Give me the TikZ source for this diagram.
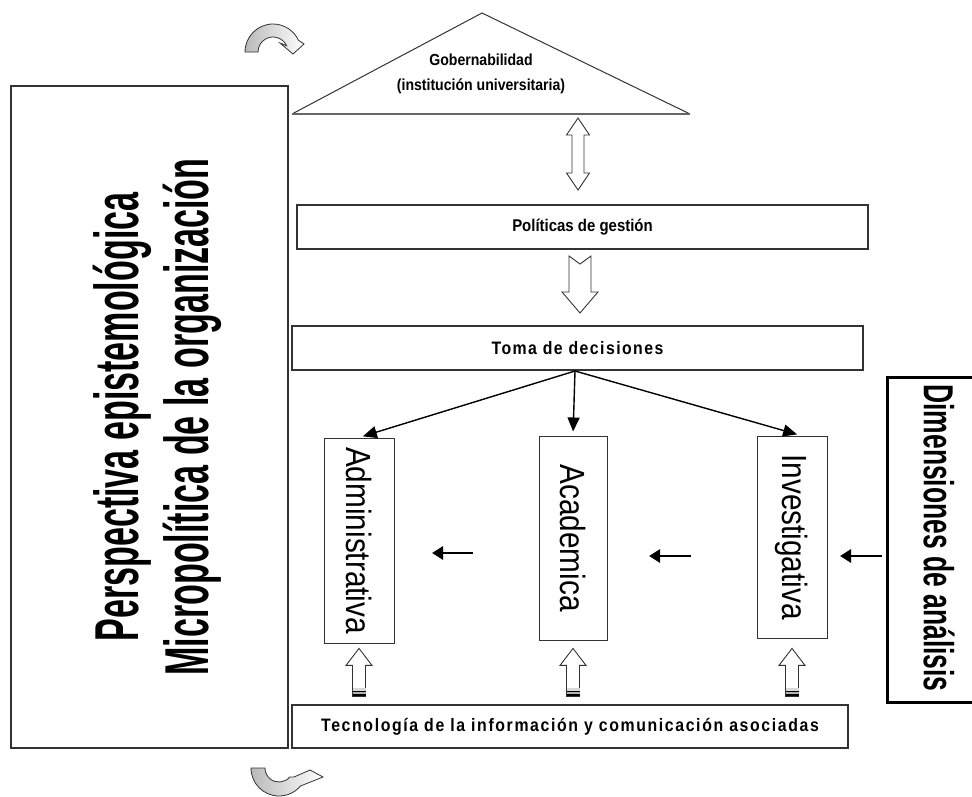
\documentclass[tikz,border=0pt]{standalone}
\usepackage{fontspec}
\usepackage{graphicx}
\setmainfont{Liberation Sans}
\newfontfamily\labelfont[FakeStretch=0.88]{Liberation Sans}
\newfontfamily\spacedfont[FakeStretch=0.88, LetterSpace=8]{Liberation Sans}
\newfontfamily\widefont[FakeStretch=0.88, LetterSpace=9]{Liberation Sans}
\newfontfamily\condfont[FakeStretch=0.55]{Liberation Sans}
\newfontfamily\dimfont[FakeStretch=0.63]{Liberation Sans}
\newfontfamily\thinfont[FakeStretch=0.85]{Liberation Sans}
\usetikzlibrary{arrows.meta}

\tikzset{
  box/.style={draw=black!80, line width=1.2pt, inner sep=0pt},
  vbox/.style={draw=black!80, line width=1pt, inner sep=0pt, font=\thinfont\fontsize{35}{40}\selectfont},
  lbl/.style={font=\labelfont\bfseries\fontsize{#1}{25}\selectfont},
  slbl/.style={font=\spacedfont\bfseries\fontsize{#1}{25}\selectfont},
  wlbl/.style={font=\widefont\bfseries\fontsize{#1}{25}\selectfont},
  fork/.style={-{Triangle[length=14pt,width=12pt]}, line width=1.4pt, shorten >=4pt},
  flow/.style={-{Triangle[length=11pt,width=13pt]}, line width=2.8pt},
  hollow/.style={draw=black!80, line width=0.9pt, fill=white, line join=miter},
  dblarrow/.pic={
    \draw[hollow] (0,0) -- (11.5,17) -- (6,17) -- (6,55) -- (11.5,55) -- (0,72)
      -- (-11.5,55) -- (-6,55) -- (-6,17) -- (-11.5,17) -- cycle;
  },
  notcharrow/.pic={
    \draw[hollow] (-11,0) -- (0,8) -- (11,0) -- (11,36) -- (18,36) -- (0,57)
      -- (-18,36) -- (-11,36) -- cycle;
  },
  uparrow/.pic={
    \draw[hollow] (-6.5,0) -- (-6.5,-31) -- (-13,-31) -- (0,-48) -- (13,-31)
      -- (6.5,-31) -- (6.5,0) -- cycle;
    \fill[black] (-6.5,0) rectangle (6.5,-2.5);
    \fill[gray!60] (-6.5,-2.5) rectangle (6.5,-4);
    \fill[black] (-6.5,-4) rectangle (6.5,-5.5);
    \fill[gray!30] (-6.5,-5.5) rectangle (6.5,-8);
  },
  turnover/.pic={
    \shade[draw=black!80, line width=0.8pt, left color=gray!55, right color=white]
      (180:28) arc[start angle=180, end angle=335, radius=28] -- (31,-8) -- (20,2)
      -- (7,-9) -- (335:15) arc[start angle=335, end angle=180, radius=15] -- cycle;
  },
  turnunder/.pic={
    \shade[draw=black!80, line width=0.8pt, left color=gray!55, right color=white]
      (180:28) arc[start angle=180, end angle=40, radius=28] -- (44,9) -- (31,2)
      -- (15,9) -- (40:14) arc[start angle=40, end angle=180, radius=14] -- cycle;
  }
}

\begin{document}
\begin{tikzpicture}[x=1pt,y=-1pt]
\useasboundingbox (0,0) rectangle (972,796);

% marco izquierdo
\node[box, minimum width=277, minimum height=662] (persp) at (149.5,417) {};
\node[rotate=90, align=center, inner sep=0pt,
      font=\condfont\bfseries\fontsize{62}{70}\selectfont] (perspText) at (157,417)
  {Perspectiva epistemológica\\Micropolítica de la organización};

% gobernabilidad
\coordinate (gobL) at (292,114);
\coordinate (gobT) at (482,13);
\coordinate (gobR) at (690,114);
\draw[line width=1pt, black!80] (gobL) -- (gobT) -- (gobR);
\draw[line width=2pt, black!60] (gobL) -- (gobR);
\node[lbl=16, align=center] (gob) at (481,74) {Gobernabilidad\\(institución universitaria)};

% cajas horizontales
\node[box, minimum width=571, minimum height=44, lbl=17] (pol) at (582.5,227) {Políticas de gestión};
\node[box, minimum width=571, minimum height=44, slbl=18] (toma) at (577.5,348) {Toma de decisiones};
\node[box, minimum width=556, minimum height=43, wlbl=18] (tec) at (570,726.5)
  {Tecnología de la información y comunicación asociadas};

% dimensiones
\node[vbox, minimum width=70, minimum height=205] (adm) at (359,540.5) {\rotatebox{-90}{Administrativa}};
\node[vbox, minimum width=68, minimum height=204] (acad) at (573,538) {\rotatebox{-90}{Academica}};
\node[vbox, minimum width=70, minimum height=202] (inv) at (792,537) {\rotatebox{-90}{Investigativa}};

\node[draw, line width=3pt, minimum width=90, minimum height=325] (dim) at (932,539.5) {};
\node[rotate=-90, inner sep=0pt, font=\dimfont\bfseries\fontsize{42}{46}\selectfont]
  (dimText) at (939,538) {Dimensiones de análisis};

% flechas de decision
\coordinate (fork) at (575,371);
\draw[fork] (fork) -- (adm.north);
\draw[fork] (fork) -- (acad.north);
\draw[fork] (fork) -- ([xshift=9pt]inv.north);

% flechas entre dimensiones
\coordinate (f1s) at (473,553);
\coordinate (f1e) at (432,553);
\coordinate (f2s) at (691,556);
\coordinate (f2e) at (649,556);
\coordinate (f3s) at (882,556);
\coordinate (f3e) at (840,556);
\draw[flow] (f1s) -- (f1e);
\draw[flow] (f2s) -- (f2e);
\draw[flow] (f3s) -- (f3e);

% flechas de bloque
\pic at (578,118) {dblarrow};
\pic at (580,256) {notcharrow};
\foreach \n in {adm,acad,inv}
  \pic at ([yshift=8pt]\n.south |- tec.north) {uparrow};

% flechas curvas
\pic at (273,52) {turnover};
\pic at (279,768) {turnunder};

\end{tikzpicture}
\end{document}
